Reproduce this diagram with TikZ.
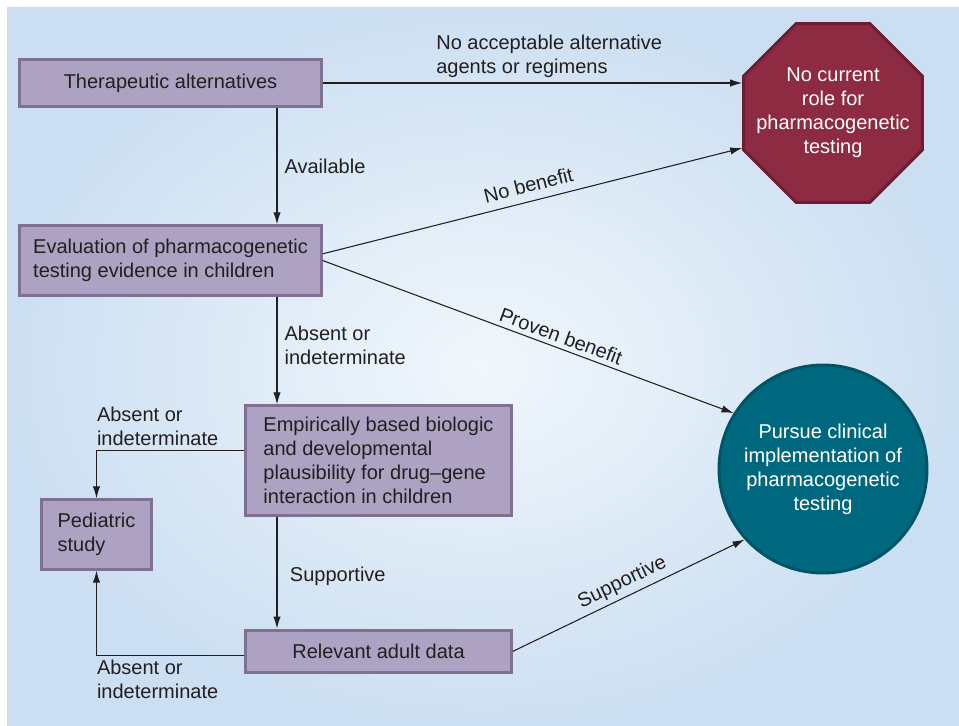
\documentclass[tikz,border=0pt]{standalone}
\usepackage{fontspec}
\setmainfont{Liberation Sans}
\usepackage{tikz}
\usetikzlibrary{shapes,shapes.geometric,arrows.meta,positioning,calc}
\definecolor{boxpurple}{RGB}{174,162,195}
\definecolor{boxedge}{RGB}{128,113,148}
\definecolor{stopred}{RGB}{140,43,66}
\definecolor{stopedge}{RGB}{110,30,50}
\definecolor{goteal}{RGB}{0,104,126}
\definecolor{goedge}{RGB}{0,84,102}
\definecolor{bgout}{RGB}{204,223,242}
\definecolor{bgin}{RGB}{241,247,252}
\definecolor{inkgrey}{RGB}{35,31,32}

\begin{document}
\begin{tikzpicture}[x=0.75pt, y=-0.75pt,
        font=\fontsize{15}{18}\selectfont, text=inkgrey,
        stage/.style={rectangle, draw=boxedge, line width=2.2pt, fill=boxpurple, inner sep=0pt},
        arrow/.style={-{Latex[length=9pt,width=5.5pt]}, line width=0.8pt, inkgrey}
    ]
        \useasboundingbox (0,0) rectangle (959,725);
        \fill[inner color=bgin, outer color=bgout] (7,7) rectangle (959,725);

        % Left column
        \node[stage, minimum width=226pt, minimum height=35pt] (therap) at (170.5,83) {Therapeutic alternatives};
        \node[stage, minimum width=226pt, minimum height=52pt, align=left] (evalu) at (170.5,260.5) {Evaluation of pharmacogenetic\\testing evidence in children};
        \node[stage, minimum width=199pt, minimum height=82pt, align=left] (empir) at (378.5,460.5) {Empirically based biologic\\and developmental\\plausibility for drug\textendash gene\\interaction in children};
        \node[stage, minimum width=199pt, minimum height=32pt, below=84pt of empir] (adult) {Relevant adult data};
        \node[stage, minimum width=82pt, minimum height=52pt, align=left] (pedi) at (96.5,534.5) {Pediatric\\study};

        % Outcomes
        \node[regular polygon, regular polygon sides=8, draw=stopedge, line width=2.2pt, fill=stopred, minimum size=145pt, inner sep=0pt,
            label={[text=white, align=center]center:No current\\role for\\pharmacogenetic\\testing}] (nocur) at (833,113) {};
        \node[circle, draw=goedge, line width=2.2pt, fill=goteal, minimum size=156pt, inner sep=0pt, text=white, align=center] (pursue) at (823,469) {Pursue clinical\\implementation of\\pharmacogenetic\\testing};

        % Arrows down
        \coordinate (spine) at (277,0);
        \draw[arrow] (therap.south -| spine) -- node[right, xshift=2pt] {Available} (evalu.north -| spine);
        \draw[arrow] (evalu.south -| spine) -- node[right, xshift=2pt, yshift=4pt, align=left] {Absent or\\indeterminate} (empir.north -| spine);
        \draw[arrow] (empir.south -| spine) -- node[right, xshift=6pt, yshift=-3pt] {Supportive} (adult.north -| spine);

        % Arrows to the stop sign
        \draw[arrow] (therap.east) -- node[above, pos=0.54, align=left] {No acceptable alternative\\agents or regimens} (therap.east -| nocur.west);
        \draw[arrow] ([yshift=5pt]evalu.east) -- node[above, sloped, yshift=3pt] {No benefit} ($(nocur.west)+(0,35)$);

        % Arrows to clinical use
        \draw[arrow] (evalu.east) -- node[above, sloped, pos=0.57] {Proven benefit} (pursue.148);
        \draw[arrow] (adult.east) -- node[above, sloped] {Supportive} (pursue.222);

        % Back to a pediatric study
        \draw[arrow] ([yshift=7.5pt]empir.west) -| node[pos=0.5, above right, inner xsep=0pt, align=left] {Absent or\\indeterminate} (pedi.north);
        \draw[arrow] ([yshift=-3pt]adult.west) -| node[pos=0.5, below right, inner xsep=0pt, align=left] {Absent or\\indeterminate} (pedi.south);
    \end{tikzpicture}
\end{document}
